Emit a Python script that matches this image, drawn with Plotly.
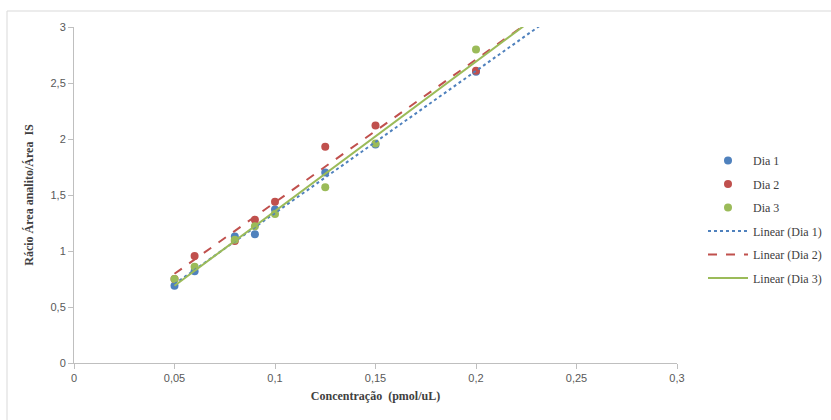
import numpy as np
import plotly.graph_objects as go

# Calibration concentrations (pmol/uL)
conc = [0.05, 0.06, 0.08, 0.09, 0.1, 0.125, 0.15, 0.2]

# Analyte / internal standard area ratios for each day
dia1 = [0.69, 0.82, 1.13, 1.15, 1.37, 1.70, 1.95, 2.60]
dia2 = [0.75, 0.955, 1.09, 1.28, 1.44, 1.93, 2.12, 2.61]
dia3 = [0.75, 0.86, 1.10, 1.22, 1.33, 1.57, 1.96, 2.80]

series_names = ["Dia 1", "Dia 2", "Dia 3"]
colors = ["#4F81BD", "#C0504D", "#9BBB59"]
dashes = ["dot", "dash", "solid"]

x_ticks = [0, 0.05, 0.1, 0.15, 0.2, 0.25, 0.3]
y_ticks = [0, 0.5, 1, 1.5, 2, 2.5, 3]

def comma(v):
    return f"{v:g}".replace(".", ",")

fig = go.Figure()

series = [dia1, dia2, dia3]
for name, ys, col in zip(series_names, series, colors):
    fig.add_trace(go.Scatter(
        x=conc, y=ys, mode="markers", name=name,
        marker=dict(color=col, size=8),
        legendgroup=name + "m",
    ))

# Least-squares trend lines, extended forward to the edge of the plot
x_fit = np.array([conc[0], 0.25])
for name, ys, col, dash in zip(series_names, series, colors, dashes):
    slope, icpt = np.polyfit(conc, ys, 1)
    fig.add_trace(go.Scatter(
        x=x_fit, y=slope * x_fit + icpt, mode="lines",
        name=f"Linear ({name})",
        line=dict(color=col, width=2, dash=dash),
        legendgroup=name + "l",
    ))

L, R, T, B = 74, 154, 27, 57
pw, ph = 831 - L - R, 420 - T - B

serif = "Liberation Serif"
tick_font = dict(family="Liberation Sans", size=11, color="#595959")
title_font = dict(family=serif, size=12, color="#404040")

fig.update_layout(
    width=831, height=420,
    margin=dict(l=L, r=R, t=T, b=B, autoexpand=False),
    paper_bgcolor="white", plot_bgcolor="white",
    showlegend=True,
    font=dict(family=serif),
    legend=dict(
        x=(703 - L) / pw, y=(363 - 146) / ph, xanchor="left", yanchor="top",
        font=dict(family=serif, size=12, color="#404040"),
        bgcolor="rgba(0,0,0,0)", tracegroupgap=4.5, itemwidth=40,
    ),
    xaxis=dict(
        range=[0, 0.3], tickvals=x_ticks, ticktext=[comma(v) for v in x_ticks],
        showgrid=False, zeroline=False, showline=True, linecolor="#BFBFBF", linewidth=1,
        ticks="outside", ticklen=5, tickcolor="#BFBFBF", tickfont=tick_font,
        title=dict(text="<b>Concentração  (pmol/uL)</b>", font=title_font, standoff=8),
    ),
    yaxis=dict(
        range=[0, 3], tickvals=y_ticks, ticktext=[comma(v) for v in y_ticks],
        showgrid=False, zeroline=False, showline=True, linecolor="#BFBFBF", linewidth=1,
        ticks="outside", ticklen=5, tickcolor="#BFBFBF", tickfont=tick_font,
        title=dict(text="<b>Rácio Área analito/Área  IS</b>", font=title_font, standoff=14),
    ),
)

# Chart-area border
fig.add_shape(
    type="rect", xref="paper", yref="paper",
    x0=(7 - L) / pw, x1=(840 - L) / pw, y0=(363 - 440) / ph, y1=(363 - 11) / ph,
    line=dict(color="#D9D9D9", width=1), fillcolor="rgba(0,0,0,0)", layer="below",
)

fig.write_html("out.html")
